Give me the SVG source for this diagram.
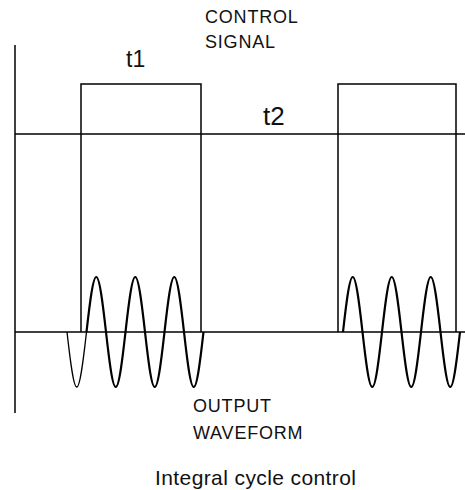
<svg xmlns="http://www.w3.org/2000/svg" width="465" height="490" viewBox="0 0 465 490">
<style>
.ln{fill:none;stroke:#000;stroke-width:1.5}
.w{fill:none;stroke:#000;stroke-width:2.2;stroke-linejoin:round}
.wt{fill:none;stroke:#000;stroke-width:1.3}
.cap{font-family:"Liberation Sans",Arial,sans-serif;font-size:18px;letter-spacing:0.8px;fill:#111}
.lab{font-family:"Liberation Sans",Arial,sans-serif;fill:#111}
</style>
<rect width="465" height="490" fill="#fff"/>
<g id="axes">
<line class="ln" x1="15" y1="45" x2="15" y2="413"/>
<line class="ln" x1="15" y1="134" x2="465" y2="134"/>
<line class="ln" x1="15" y1="332" x2="465" y2="332"/>
</g>
<g id="control-signal">
<path class="ln" d="M81,332 V84 H201 V332"/>
<path class="ln" d="M338,332 V84 H456 V332"/>
</g>
<g id="output-waveform">
<path class="wt" d="M67,332 c3.18,28.18 6.40,55 9.75,55 s6.57,-26.82 9.75,-55"/>
<path class="w" d="M86.5,332 c3.18,-28.18 6.40,-55 9.75,-55 s6.57,26.82 9.75,55 s6.40,55 9.75,55 s6.57,-26.82 9.75,-55 s6.40,-55 9.75,-55 s6.57,26.82 9.75,55 s6.40,55 9.75,55 s6.57,-26.82 9.75,-55 s6.40,-55 9.75,-55 s6.57,26.82 9.75,55 s6.40,55 9.75,55 s6.57,-26.82 9.75,-55"/>
<path class="w" d="M343,332 c3.18,-28.18 6.40,-55 9.75,-55 s6.57,26.82 9.75,55 s6.40,55 9.75,55 s6.57,-26.82 9.75,-55 s6.40,-55 9.75,-55 s6.57,26.82 9.75,55 s6.40,55 9.75,55 s6.57,-26.82 9.75,-55 s6.40,-55 9.75,-55 s6.57,26.82 9.75,55 s6.40,55 9.75,55 s6.57,-26.82 9.75,-55"/>
</g>
<g id="labels">
<text class="cap" x="205" y="23">CONTROL</text>
<text class="cap" x="205" y="48" letter-spacing="1.2">SIGNAL</text>
<text class="lab" x="126" y="67" font-size="23">t1</text>
<text class="lab" x="263" y="125" font-size="26">t2</text>
<text class="cap" x="193" y="412">OUTPUT</text>
<text class="cap" x="193" y="439" letter-spacing="1.2">WAVEFORM</text>
<text class="lab" x="155" y="485" font-size="21" letter-spacing="0.4">Integral cycle control</text>
</g>
</svg>
